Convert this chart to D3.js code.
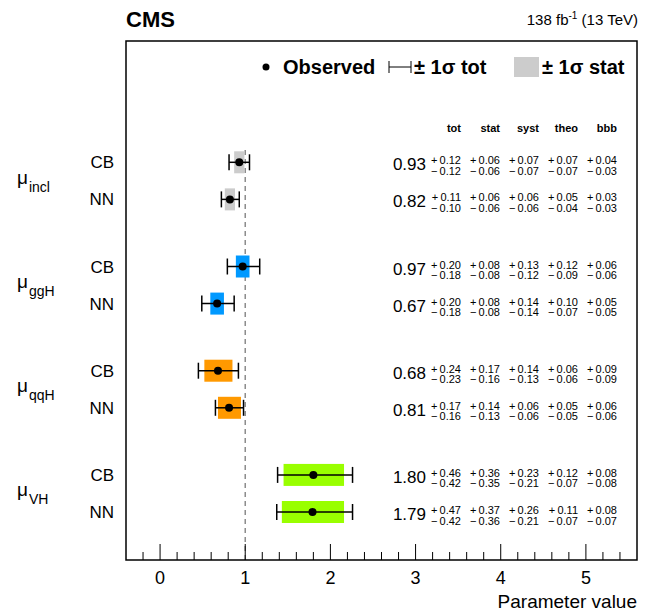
<!DOCTYPE html>
<html>
<head>
<meta charset="utf-8">
<script src="https://cdn.jsdelivr.net/npm/d3@7"></script>
<style>
  body { margin: 0; background: #fff; }
  text { font-family: "Liberation Sans", Arial, sans-serif; fill: #000; }
</style>
</head>
<body>
<div id="chart"></div>
<script>
// parameters of interest, two analysis methods each
var pois = ['incl', 'ggH', 'qqH', 'VH'];
var methods = ['CB', 'NN'];
var poiColors = ['#cccccc', '#0099ff', '#ff9900', '#99ff00'];

// one entry per row: incl CB, incl NN, ggH CB, ggH NN, qqH CB, qqH NN, VH CB, VH NN
var values = [0.93, 0.82, 0.97, 0.67, 0.68, 0.81, 1.80, 1.79];
var totUp  = [0.12, 0.11, 0.20, 0.20, 0.24, 0.17, 0.46, 0.47];
var totDn  = [0.12, 0.10, 0.18, 0.18, 0.23, 0.16, 0.42, 0.42];
var statUp = [0.06, 0.06, 0.08, 0.08, 0.17, 0.14, 0.36, 0.37];
var statDn = [0.06, 0.06, 0.08, 0.08, 0.16, 0.13, 0.35, 0.36];
var systUp = [0.07, 0.06, 0.13, 0.14, 0.14, 0.06, 0.23, 0.26];
var systDn = [0.07, 0.06, 0.12, 0.14, 0.13, 0.06, 0.21, 0.21];
var theoUp = [0.07, 0.05, 0.12, 0.10, 0.06, 0.05, 0.12, 0.11];
var theoDn = [0.07, 0.04, 0.09, 0.07, 0.06, 0.05, 0.07, 0.07];
var bbbUp  = [0.04, 0.03, 0.06, 0.05, 0.09, 0.06, 0.08, 0.08];
var bbbDn  = [0.03, 0.03, 0.06, 0.05, 0.09, 0.06, 0.08, 0.07];

var colHeaders = ['tot', 'stat', 'syst', 'theo', 'bbb'];
var xTicks = [0, 1, 2, 3, 4, 5];

var width = 651, height = 613;
var frame = { left: 126, top: 41, right: 637, bottom: 560 };

var svg = d3.select('#chart').append('svg')
    .attr('width', width)
    .attr('height', height);

var x = d3.scaleLinear().domain([-0.4, 5.6]).range([frame.left, frame.right]);

// rows inside a group are 1 apart, groups 2.81 apart
var groupStep = 2.81;
var rowIndex = function (i) { return Math.floor(i / 2) * groupStep + (i % 2); };
var y = d3.scaleLinear().domain([0, 3 * groupStep + 1]).range([162.3, 512]);

var rows = values.map(function (v, i) {
    return {
        i: i, v: v, poi: Math.floor(i / 2), method: methods[i % 2],
        errs: [[totUp[i], totDn[i]], [statUp[i], statDn[i]], [systUp[i], systDn[i]],
               [theoUp[i], theoDn[i]], [bbbUp[i], bbbDn[i]]]
    };
});

// reference line at 1
svg.append('line')
    .attr('x1', x(1)).attr('x2', x(1))
    .attr('y1', 150).attr('y2', frame.bottom)
    .attr('stroke', '#8c8c8c')
    .attr('stroke-width', 1.5)
    .attr('stroke-dasharray', '5,4');

// stat boxes
svg.selectAll('rect.stat').data(rows).enter()
    .append('rect')
    .attr('class', 'stat')
    .attr('x', function (d) { return x(d.v - statDn[d.i]); })
    .attr('width', function (d) { return x(d.v + statUp[d.i]) - x(d.v - statDn[d.i]); })
    .attr('y', function (d) { return y(rowIndex(d.i)) - 11; })
    .attr('height', 22)
    .attr('fill', function (d) { return poiColors[d.poi]; });

// total error bars
var eb = svg.selectAll('g.eb').data(rows).enter().append('g').attr('class', 'eb');
eb.append('line')
    .attr('x1', function (d) { return x(d.v - totDn[d.i]); })
    .attr('x2', function (d) { return x(d.v + totUp[d.i]); })
    .attr('y1', function (d) { return y(rowIndex(d.i)); })
    .attr('y2', function (d) { return y(rowIndex(d.i)); })
    .attr('stroke', '#000').attr('stroke-width', 1.5);
[function (d) { return d.v - totDn[d.i]; }, function (d) { return d.v + totUp[d.i]; }].forEach(function (f) {
    eb.append('line')
        .attr('x1', function (d) { return x(f(d)); })
        .attr('x2', function (d) { return x(f(d)); })
        .attr('y1', function (d) { return y(rowIndex(d.i)) - 8; })
        .attr('y2', function (d) { return y(rowIndex(d.i)) + 8; })
        .attr('stroke', '#000').attr('stroke-width', 1.5);
});
eb.append('circle')
    .attr('cx', function (d) { return x(d.v); })
    .attr('cy', function (d) { return y(rowIndex(d.i)); })
    .attr('r', 4)
    .attr('fill', '#000');

// method labels
svg.selectAll('text.method').data(rows).enter()
    .append('text')
    .attr('class', 'method')
    .attr('x', 114)
    .attr('y', function (d) { return y(rowIndex(d.i)) + 6; })
    .attr('text-anchor', 'end')
    .style('font-size', '17px')
    .text(function (d) { return d.method; });

// poi labels
pois.forEach(function (p, g) {
    var yc = (y(g * groupStep) + y(g * groupStep + 1)) / 2;
    var t = svg.append('text').attr('x', 17).attr('y', yc + 3).style('font-size', '19px');
    t.append('tspan').text('\u03bc');
    t.append('tspan').attr('dx', 1).attr('dy', 8).style('font-size', '14px').text(p);
});

// numbers table
var colRight = [461, 500, 539, 578, 617];
svg.selectAll('text.hdr').data(colHeaders).enter()
    .append('text')
    .attr('x', function (d, j) { return colRight[j]; })
    .attr('y', 132)
    .attr('text-anchor', 'end')
    .style('font-size', '11px')
    .style('font-weight', 'bold')
    .text(function (d) { return d; });

var tbl = svg.selectAll('g.row').data(rows).enter().append('g').attr('class', 'row');
tbl.append('text')
    .attr('x', 426)
    .attr('y', function (d) { return y(rowIndex(d.i)) + 8; })
    .attr('text-anchor', 'end')
    .style('font-size', '17px')
    .text(function (d) { return d.v.toFixed(2); });
colRight.forEach(function (cx, j) {
    tbl.append('text')
        .attr('x', cx)
        .attr('y', function (d) { return y(rowIndex(d.i)) + 2; })
        .attr('text-anchor', 'end')
        .style('font-size', '11px')
        .text(function (d) { return '+\u2009' + d.errs[j][0].toFixed(2); });
    tbl.append('text')
        .attr('x', cx)
        .attr('y', function (d) { return y(rowIndex(d.i)) + 12.5; })
        .attr('text-anchor', 'end')
        .style('font-size', '11px')
        .text(function (d) { return '\u2212\u2009' + d.errs[j][1].toFixed(2); });
});

// frame
svg.append('rect')
    .attr('x', frame.left).attr('y', frame.top)
    .attr('width', frame.right - frame.left).attr('height', frame.bottom - frame.top)
    .attr('fill', 'none').attr('stroke', '#000').attr('stroke-width', 1.5);

// x axis: inward ticks, ROOT style
var minor = d3.range(-0.2, 5.5, 0.2).filter(function (t) { return Math.abs(t - Math.round(t)) > 0.01; });
svg.selectAll('line.minor').data(minor).enter()
    .append('line')
    .attr('x1', function (d) { return x(d); }).attr('x2', function (d) { return x(d); })
    .attr('y1', frame.bottom).attr('y2', frame.bottom - 8)
    .attr('stroke', '#000').attr('stroke-width', 1);
svg.selectAll('line.major').data(xTicks).enter()
    .append('line')
    .attr('x1', function (d) { return x(d); }).attr('x2', function (d) { return x(d); })
    .attr('y1', frame.bottom).attr('y2', frame.bottom - 16)
    .attr('stroke', '#000').attr('stroke-width', 1);
svg.selectAll('text.tick').data(xTicks).enter()
    .append('text')
    .attr('x', function (d) { return x(d); })
    .attr('y', 584)
    .attr('text-anchor', 'middle')
    .style('font-size', '18px')
    .text(function (d) { return d; });
svg.append('text')
    .attr('x', frame.right).attr('y', 608)
    .attr('text-anchor', 'end')
    .style('font-size', '19px')
    .text('Parameter value');

// header
svg.append('text')
    .attr('x', frame.left).attr('y', 27)
    .style('font-size', '22px').style('font-weight', 'bold')
    .text('CMS');
var lumi = svg.append('text').attr('x', frame.right + 1).attr('y', 25)
    .attr('text-anchor', 'end').style('font-size', '15px');
lumi.append('tspan').text('138 fb');
lumi.append('tspan').attr('dy', -6).style('font-size', '10px').text('-1');
lumi.append('tspan').attr('dy', 6).text(' (13 TeV)');

// legend
var lg = svg.append('g');
lg.append('circle').attr('cx', 266).attr('cy', 67).attr('r', 3.5).attr('fill', '#000');
lg.append('text').attr('x', 283).attr('y', 74)
    .style('font-size', '20px').style('font-weight', 'bold').text('Observed');
lg.append('line').attr('x1', 389).attr('x2', 411).attr('y1', 67).attr('y2', 67).attr('stroke', '#000');
lg.append('line').attr('x1', 389).attr('x2', 389).attr('y1', 61).attr('y2', 73).attr('stroke', '#000');
lg.append('line').attr('x1', 411).attr('x2', 411).attr('y1', 61).attr('y2', 73).attr('stroke', '#000');
lg.append('text').attr('x', 414).attr('y', 74)
    .style('font-size', '20px').style('font-weight', 'bold').text('\u00b1 1\u03c3 tot');
lg.append('rect').attr('x', 514).attr('y', 57).attr('width', 25).attr('height', 20).attr('fill', poiColors[0]);
lg.append('text').attr('x', 542).attr('y', 74)
    .style('font-size', '20px').style('font-weight', 'bold').text('\u00b1 1\u03c3 stat');
</script>
</body>
</html>
